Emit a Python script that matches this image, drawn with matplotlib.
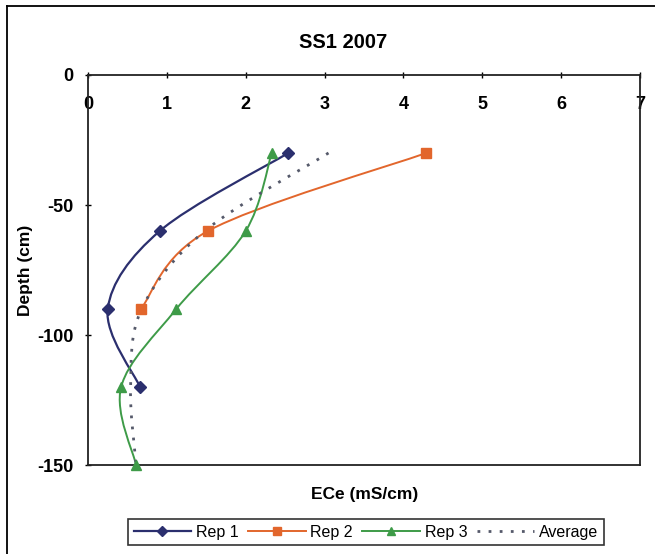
import matplotlib.pyplot as plt
from matplotlib.path import Path
from matplotlib.patches import PathPatch
from matplotlib.lines import Line2D

plt.rcParams['font.family'] = ['Liberation Sans', 'DejaVu Sans']
plt.rcParams['axes.unicode_minus'] = False

# data
depth = [-30, -60, -90, -120, -150]
rep1 = [2.54, 0.91, 0.25, 0.66]
rep2 = [4.29, 1.52, 0.67]
rep3 = [2.33, 2.00, 1.12, 0.42, 0.61]
average = [3.05, 1.48, 0.68, 0.54, 0.61]
xticks = [0, 1, 2, 3, 4, 5, 6, 7]
yticks = [0, -50, -100, -150]


def smooth_path(x, y):
    # excel style smoothed line (cubic bezier through every point)
    pts = list(zip(x, y))
    n = len(pts)
    verts = [pts[0]]
    codes = [Path.MOVETO]
    for i in range(n - 1):
        p0 = pts[i - 1] if i > 0 else pts[i]
        p1 = pts[i]
        p2 = pts[i + 1]
        p3 = pts[i + 2] if i + 2 < n else pts[i + 1]
        c1 = (p1[0] + (p2[0] - p0[0]) / 6, p1[1] + (p2[1] - p0[1]) / 6)
        c2 = (p2[0] - (p3[0] - p1[0]) / 6, p2[1] - (p3[1] - p1[1]) / 6)
        verts += [c1, c2, p2]
        codes += [Path.CURVE4] * 3
    return Path(verts, codes)


fig = plt.figure(figsize=(6.55, 5.54), dpi=100)
ax = fig.add_axes([88 / 655, (554 - 465) / 554, 552 / 655, 390 / 554])

series = [
    ('Rep 1', rep1, '#2B2F6E', 'D', 6, '-', 1.6),
    ('Rep 2', rep2, '#E2662C', 's', 7, '-', 1.4),
    ('Rep 3', rep3, '#3E9B48', '^', 7, '-', 1.4),
    ('Average', average, '#55596A', None, 0, (0, (1, 3)), 2.0),
]
handles = []
for name, vals, col, mk, ms, ls, lw in series:
    d = depth[:len(vals)]
    ax.add_patch(PathPatch(smooth_path(vals, d), fill=False, edgecolor=col,
                           linestyle=ls, linewidth=lw, zorder=2))
    if mk:
        ax.plot(vals, d, linestyle='none', marker=mk, markersize=ms,
                color=col, markeredgecolor=col, zorder=3, clip_on=False)
    handles.append(Line2D([], [], color=col, linestyle=ls, linewidth=lw,
                          marker=mk, markersize=ms - 1, label=name))

ax.set_xlim(0, 7)
ax.set_ylim(-150, 0)
ax.set_xticks(xticks)
ax.set_yticks(yticks)
ax.xaxis.tick_top()
ax.tick_params(axis='x', direction='inout', length=5, pad=-30,
               labelsize=13, width=1)
ax.tick_params(axis='y', direction='inout', length=5, pad=8,
               labelsize=13, width=1)
for lab in ax.get_xticklabels() + ax.get_yticklabels():
    lab.set_fontweight('bold')
for s in ax.spines.values():
    s.set_linewidth(1.3)
    s.set_color('#222222')

ax.set_ylabel('Depth (cm)', fontsize=12.5, fontweight='bold')
ax.yaxis.set_label_coords((33 - 88) / 552, 0.5)
fig.text(365 / 655, 1 - 495 / 554, 'ECe (mS/cm)', fontsize=12.5,
         fontweight='bold', ha='center', va='center')
fig.text(343 / 655, 1 - 42 / 554, 'SS1 2007', fontsize=14.5,
         fontweight='bold', ha='center', va='center')

leg = fig.legend(handles=handles, loc='center', ncol=4,
                 bbox_to_anchor=(366 / 655, 1 - 532 / 554),
                 fontsize=11.5, handlelength=3.6, handletextpad=0.3,
                 columnspacing=0.6, borderpad=0.35, frameon=True,
                 fancybox=False, edgecolor='black')
leg.get_frame().set_linewidth(1.2)

# outer chart border
fig.add_artist(Line2D([7 / 655, 7 / 655], [0, 1 - 6 / 554], color='black',
                      linewidth=1.3))
fig.add_artist(Line2D([7 / 655, 1], [1 - 6 / 554, 1 - 6 / 554], color='black',
                      linewidth=1.3))

fig.savefig('out.png', dpi=100)
